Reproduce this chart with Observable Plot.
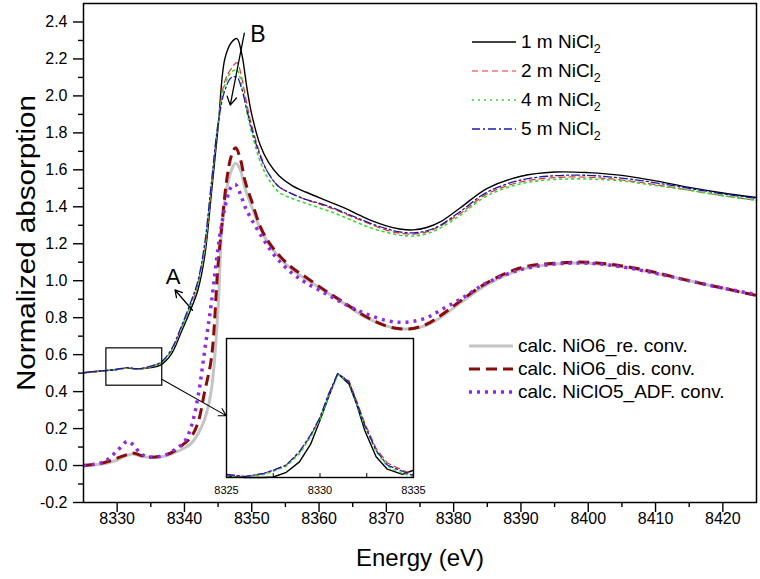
<!DOCTYPE html>
<html><head><meta charset="utf-8">
<script src="https://cdn.jsdelivr.net/npm/d3@7"></script>
<script src="https://cdn.jsdelivr.net/npm/@observablehq/plot@0.6"></script>
<style>
body{margin:0;background:#fff;font-family:"Liberation Sans",Arial,sans-serif;}
#wrap{position:relative;width:760px;height:579px;}
#inset{position:absolute;left:210px;top:337px;}
.leg{position:absolute;display:flex;align-items:center;white-space:nowrap;color:#000;font-size:19px;line-height:20px;}
.leg svg{margin-right:5px;}
.leg sub{font-size:12.5px;vertical-align:-5px;line-height:0;}
</style></head><body><div id="wrap"></div>
<script>
// ---------- data ----------
const expLabels = ["1 m NiCl₂", "2 m NiCl₂", "4 m NiCl₂", "5 m NiCl₂"];
const calcLabels = ["calc. NiO6_re. conv.", "calc. NiO6_dis. conv.", "calc. NiClO5_ADF. conv."];

const expE = [8325, 8328, 8330, 8331.5, 8333, 8335, 8336.5, 8338, 8339.5, 8341, 8342, 8343, 8344, 8345, 8346, 8347, 8347.8, 8348.5, 8349.3, 8350, 8351.3, 8352.5, 8354, 8356, 8358, 8360, 8362, 8364, 8366, 8368, 8370, 8372, 8374, 8376, 8378, 8381, 8385, 8390, 8395, 8400, 8405, 8410, 8415, 8420, 8425];
const exp1m = [0.503, 0.513, 0.52, 0.527, 0.522, 0.53, 0.545, 0.60, 0.72, 0.85, 0.95, 1.13, 1.47, 1.83, 2.20, 2.29, 2.31, 2.23, 2.04, 1.90, 1.73, 1.64, 1.57, 1.515, 1.48, 1.45, 1.42, 1.39, 1.355, 1.322, 1.297, 1.28, 1.275, 1.288, 1.318, 1.395, 1.50, 1.565, 1.588, 1.585, 1.57, 1.54, 1.505, 1.475, 1.45];
const exp2m = [0.50, 0.512, 0.52, 0.528, 0.522, 0.535, 0.555, 0.615, 0.74, 0.87, 0.98, 1.16, 1.50, 1.85, 2.08, 2.15, 2.18, 2.10, 1.95, 1.84, 1.68, 1.58, 1.51, 1.47, 1.44, 1.415, 1.39, 1.36, 1.33, 1.30, 1.274, 1.257, 1.252, 1.264, 1.295, 1.365, 1.47, 1.535, 1.558, 1.56, 1.545, 1.52, 1.49, 1.46, 1.435];
const exp4m = [0.50, 0.512, 0.52, 0.528, 0.522, 0.535, 0.555, 0.615, 0.74, 0.875, 0.985, 1.17, 1.51, 1.85, 2.06, 2.13, 2.14, 2.06, 1.91, 1.80, 1.64, 1.55, 1.48, 1.445, 1.42, 1.395, 1.37, 1.34, 1.31, 1.282, 1.262, 1.246, 1.242, 1.254, 1.285, 1.355, 1.46, 1.525, 1.548, 1.55, 1.54, 1.515, 1.49, 1.46, 1.435];
const exp5m = [0.502, 0.513, 0.521, 0.53, 0.524, 0.538, 0.56, 0.625, 0.75, 0.89, 1.0, 1.2, 1.53, 1.85, 2.03, 2.10, 2.10, 2.04, 1.92, 1.82, 1.67, 1.58, 1.51, 1.47, 1.44, 1.42, 1.395, 1.365, 1.335, 1.306, 1.282, 1.264, 1.259, 1.27, 1.30, 1.375, 1.48, 1.545, 1.568, 1.57, 1.555, 1.53, 1.50, 1.47, 1.445];

const calcE = [8325, 8328, 8330, 8331.5, 8332.3, 8333.5, 8335, 8337, 8338.5, 8340, 8341, 8342, 8343, 8344, 8345, 8345.5, 8346.3, 8347, 8347.6, 8348.3, 8349, 8350, 8351.3, 8352.5, 8354, 8356, 8358, 8361, 8364, 8367, 8370, 8372, 8374, 8376, 8378, 8381, 8385, 8390, 8395, 8400, 8405, 8410, 8415, 8420, 8425];
const calcRe = [0.0, 0.01, 0.03, 0.055, 0.062, 0.05, 0.045, 0.05, 0.07, 0.095, 0.12, 0.17, 0.25, 0.41, 0.85, 1.25, 1.50, 1.60, 1.635, 1.60, 1.50, 1.40, 1.28, 1.20, 1.13, 1.06, 1.01, 0.94, 0.87, 0.80, 0.755, 0.74, 0.742, 0.76, 0.80, 0.88, 0.98, 1.06, 1.09, 1.095, 1.075, 1.04, 1.0, 0.96, 0.92];
const calcDis = [0.0, 0.015, 0.04, 0.06, 0.068, 0.055, 0.045, 0.055, 0.078, 0.12, 0.155, 0.23, 0.40, 0.58, 1.09, 1.28, 1.55, 1.68, 1.72, 1.66, 1.54, 1.43, 1.29, 1.21, 1.14, 1.07, 1.02, 0.945, 0.875, 0.805, 0.755, 0.74, 0.742, 0.765, 0.81, 0.89, 0.99, 1.07, 1.095, 1.10, 1.08, 1.045, 1.0, 0.96, 0.92];
const calcADF = [0.0, 0.02, 0.08, 0.13, 0.115, 0.065, 0.045, 0.055, 0.085, 0.13, 0.21, 0.37, 0.62, 0.88, 1.18, 1.30, 1.44, 1.51, 1.52, 1.47, 1.40, 1.33, 1.25, 1.18, 1.11, 1.04, 0.99, 0.93, 0.87, 0.82, 0.785, 0.775, 0.78, 0.80, 0.84, 0.90, 0.99, 1.06, 1.09, 1.095, 1.075, 1.04, 1.0, 0.96, 0.925];

// inset (pre-edge, scaled)
const insE = [8325, 8326, 8327, 8327.5, 8328.2, 8328.9, 8329.5, 8330, 8330.45, 8330.95, 8331.55, 8331.95, 8332.4, 8333, 8333.6, 8334.4, 8335];
const ins1m = [0.01, 0.0, 0.0, 0.005, 0.05, 0.15, 0.32, 0.55, 0.77, 1.0, 0.9, 0.71, 0.45, 0.2, 0.08, 0.03, 0.07];
const ins2m = [0.02, 0.01, 0.04, 0.07, 0.12, 0.24, 0.40, 0.57, 0.79, 1.0, 0.93, 0.74, 0.52, 0.28, 0.14, 0.07, 0.03];
const ins4m = [0.01, 0.0, 0.03, 0.06, 0.11, 0.23, 0.39, 0.56, 0.78, 0.99, 0.92, 0.72, 0.49, 0.25, 0.11, 0.04, 0.01];
const ins5m = [0.03, 0.01, 0.04, 0.07, 0.12, 0.25, 0.41, 0.58, 0.80, 1.0, 0.92, 0.73, 0.50, 0.26, 0.12, 0.06, 0.02];

const xMajor = [8330, 8340, 8350, 8360, 8370, 8380, 8390, 8400, 8410, 8420];
const xMinor = [8335, 8345, 8355, 8365, 8375, 8385, 8395, 8405, 8415];
const yMajor = [-0.2, 0, 0.2, 0.4, 0.6, 0.8, 1.0, 1.2, 1.4, 1.6, 1.8, 2.0, 2.2, 2.4];
const yMinor = [-0.1, 0.1, 0.3, 0.5, 0.7, 0.9, 1.1, 1.3, 1.5, 1.7, 1.9, 2.1, 2.3];
const insTicks = [8325, 8330, 8335];
const insMinor = [8327.5, 8332.5];

// annotations (data coordinates)
const arrowA = [{x1: 8341.2, y1: 0.84, x2: 8338.6, y2: 0.95}];
const arrowB = [{x1: 8348.9, y1: 2.34, x2: 8346.8, y2: 1.95}];
const arrowInset = [{x1: 8336.7, y1: 0.465, x2: 8346.2, y2: 0.27}];
const labelA = [{x: 8338.3, y: 1.02, t: "A"}];
const labelB = [{x: 8350.9, y: 2.33, t: "B"}];
const zoomBox = [{x1: 8328.4, x2: 8336.7, y1: 0.432, y2: 0.634}];

// ---------- styles ----------
const expStyles = [
  {stroke: "#000000", strokeWidth: 1.4, dash: null},
  {stroke: "#e8302a", strokeWidth: 1.2, dash: "6,4"},
  {stroke: "#33dd33", strokeWidth: 1.6, dash: "2,4"},
  {stroke: "#1a1ab0", strokeWidth: 1.3, dash: "8,3,2,3"}
];
const calcStyles = [
  {stroke: "#c4c4c4", strokeWidth: 3, dash: null, cap: "butt"},
  {stroke: "#8b0a0a", strokeWidth: 3, dash: "11,6", cap: "butt"},
  {stroke: "#8f2be0", strokeWidth: 3.5, dash: "3,5", cap: "butt"}
];

const toRows = (E, V) => E.map((e, i) => ({x: e, y: V[i]}));
const expSeries = [exp1m, exp2m, exp4m, exp5m];
const calcSeries = [calcRe, calcDis, calcADF];
const insSeries = [ins1m, ins2m, ins4m, ins5m];

const font = "'Liberation Sans', Arial, sans-serif";

const lineMarks = [];
calcSeries.forEach((v, i) => {
  const s = calcStyles[i];
  lineMarks.push(Plot.line(toRows(calcE, v), {x: "x", y: "y", curve: "catmull-rom", stroke: s.stroke, strokeWidth: s.strokeWidth, strokeDasharray: s.dash, strokeLinecap: s.cap}));
});
expSeries.forEach((v, i) => {
  const s = expStyles[i];
  lineMarks.push(Plot.line(toRows(expE, v), {x: "x", y: "y", curve: "catmull-rom", stroke: s.stroke, strokeWidth: s.strokeWidth, strokeDasharray: s.dash}));
});

const main = Plot.plot({
  width: 760, height: 579,
  marginLeft: 83, marginRight: 4, marginTop: 3, marginBottom: 77,
  x: {domain: [8325, 8425]},
  y: {domain: [-0.2, 2.5]},
  style: {fontFamily: font, fontSize: "16px", color: "#000", background: "white", overflow: "visible"},
  marks: [
    Plot.axisX({ticks: xMajor, tickSize: 10, tickPadding: 0, tickFormat: d => String(d), label: null, fontSize: 16, strokeWidth: 1.4}),
    Plot.axisX({ticks: xMinor, tickSize: 5, tickFormat: () => "", label: null, strokeWidth: 1.4}),
    Plot.axisY({ticks: yMajor, tickSize: 10, tickPadding: 6, tickFormat: d => d.toFixed(1), label: null, fontSize: 16, strokeWidth: 1.4}),
    Plot.axisY({ticks: yMinor, tickSize: 5, tickFormat: () => "", label: null, strokeWidth: 1.4}),
    ...lineMarks,
    Plot.rect(zoomBox, {x1: "x1", x2: "x2", y1: "y1", y2: "y2", stroke: "black", strokeWidth: 1.2, fill: "none"}),
    Plot.arrow(arrowA, {x1: "x1", y1: "y1", x2: "x2", y2: "y2", stroke: "black", strokeWidth: 1.3, headLength: 9}),
    Plot.arrow(arrowB, {x1: "x1", y1: "y1", x2: "x2", y2: "y2", stroke: "black", strokeWidth: 1.3, headLength: 11}),
    Plot.arrow(arrowInset, {x1: "x1", y1: "y1", x2: "x2", y2: "y2", stroke: "black", strokeWidth: 1.1, headLength: 11}),
    Plot.text(labelA, {x: "x", y: "y", text: "t", fontSize: 22, fill: "black"}),
    Plot.text(labelB, {x: "x", y: "y", text: "t", fontSize: 23, fill: "black"}),
    Plot.frame({stroke: "black", strokeWidth: 1.5}),
    Plot.text(["Normalized absorption"], {frameAnchor: "left", textAnchor: "middle", lineAnchor: "middle", dx: -57, dy: -10, rotate: -90, fontSize: 25, fill: "black", className: "ytitle"}),
    Plot.text(["Energy (eV)"], {frameAnchor: "bottom", lineAnchor: "middle", dy: 56, fontSize: 24, fill: "black"})
  ]
});
const wrap = document.getElementById("wrap");
wrap.appendChild(main);
// stretch the y title to the reference's length
main.querySelectorAll(".ytitle text").forEach(t => { t.setAttribute("textLength", 296); t.setAttribute("lengthAdjust", "spacingAndGlyphs"); });

// ---------- inset ----------
const insMarks = [Plot.frame({fill: "white", stroke: "none"})];
insSeries.forEach((v, i) => {
  const s = expStyles[i];
  insMarks.push(Plot.line(toRows(insE, v), {x: "x", y: "y", stroke: s.stroke, strokeWidth: s.strokeWidth, strokeDasharray: s.dash}));
});
insMarks.push(
  Plot.tickX(insMinor.concat(insTicks), {x: d => d, stroke: "black", strokeWidth: 1, insetTop: 135}),
  Plot.axisX({ticks: insTicks, tickSize: 0, tickPadding: 9, tickFormat: d => String(d), label: null, fontSize: 11}),
  Plot.frame({stroke: "black", strokeWidth: 1.4})
);
const inset = Plot.plot({
  width: 219, height: 160,
  marginLeft: 16, marginRight: 16, marginTop: 1, marginBottom: 20,
  x: {domain: [8325, 8335]},
  y: {domain: [0, 1.337], axis: null},
  style: {fontFamily: font, fontSize: "11px", color: "#000", background: "transparent", overflow: "visible"},
  marks: insMarks
});
inset.id = "inset";
wrap.appendChild(inset);

// ---------- legends ----------
function addLegend(labels, styles, left, tops, lineW) {
  labels.forEach((lab, i) => {
    const s = styles[i];
    const d = document.createElement("div");
    d.className = "leg";
    d.style.left = left + "px";
    d.style.top = (tops[i] - 10) + "px";
    const dash = s.dash ? `stroke-dasharray="${s.dash}"` : "";
    d.innerHTML = `<svg width="${lineW}" height="20"><line x1="0" x2="${lineW}" y1="10" y2="10" stroke="${s.stroke}" stroke-width="${s.strokeWidth}" ${dash}/></svg><span>${lab.replace("₂", "<sub>2</sub>")}</span>`;
    wrap.appendChild(d);
  });
}
addLegend(expLabels, expStyles, 472, [42, 71, 100, 129], 44);
addLegend(calcLabels, calcStyles, 469, [346, 369, 392], 44);
</script></body></html>
